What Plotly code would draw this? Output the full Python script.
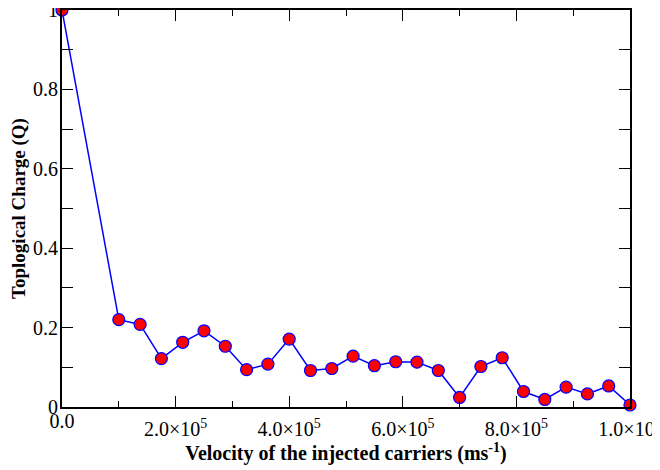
import plotly.graph_objects as go

velocity = [0, 100000, 137500, 175000, 212500, 250000, 287500, 325000, 362500,
            400000, 437500, 475000, 512500, 550000, 587500, 625000, 662500,
            700000, 737500, 775000, 812500, 850000, 887500, 925000, 962500, 1000000]
charge = [1.0, 0.220, 0.208, 0.122, 0.163, 0.192, 0.153, 0.094, 0.108,
          0.171, 0.092, 0.097, 0.128, 0.104, 0.114, 0.113, 0.092,
          0.024, 0.102, 0.124, 0.039, 0.019, 0.050, 0.033, 0.053, 0.005]

x_tickvals = [200000, 400000, 600000, 800000, 1000000]
x_ticktext = ["2.0×10<sup>5</sup>", "4.0×10<sup>5</sup>", "6.0×10<sup>5</sup>",
              "8.0×10<sup>5</sup>", "1.0×10<sup>6</sup>"]
x_zero_val = [0]
x_zero_text = ["0.0"]
y_tickvals = [0, 0.2, 0.4, 0.6, 0.8, 1.0]
y_ticktext = ["0", "0.2", "0.4", "0.6", "0.8", "1"]

FONT = "Liberation Serif"

fig = go.Figure()
fig.add_trace(go.Scatter(
    x=velocity, y=charge, mode="lines+markers",
    line=dict(color="#0000ff", width=1.5),
    marker=dict(size=12, color="#ff0000", line=dict(color="#0000ff", width=1.2)),
    cliponaxis=False, showlegend=False,
))
# invisible companion trace so the secondary x axis (for the "0.0" label) is drawn
fig.add_trace(go.Scatter(
    x=velocity, y=charge, xaxis="x2", mode="markers",
    marker=dict(opacity=0), hoverinfo="skip", showlegend=False,
))

axis_common = dict(
    showgrid=False, zeroline=False, showline=True, linecolor="black", linewidth=2,
    mirror="allticks", ticks="inside", ticklen=11, tickwidth=1, tickcolor="black",
    tickfont=dict(family=FONT, size=20, color="black"),
    automargin=False, ticklabeloverflow="allow",
)

fig.update_layout(xaxis=dict(
    range=[0, 1000000], tickmode="array", tickvals=x_tickvals, ticktext=x_ticktext,
    minor=dict(dtick=100000, tick0=0, ticks="inside", ticklen=6, tickcolor="black", tickwidth=1),
    title=dict(text="<b>Velocity of the injected carriers (ms<sup>-1</sup>)</b>",
               font=dict(family=FONT, size=20, color="black"), standoff=7),
    ticklabelstandoff=3,
    **axis_common,
))
fig.update_layout(xaxis2=dict(
    range=[0, 1000000], overlaying="x", side="bottom", anchor="y",
    tickmode="array", tickvals=x_zero_val, ticktext=x_zero_text,
    showline=False, showgrid=False, zeroline=False, ticks="",
    tickfont=dict(family=FONT, size=20, color="black"),
    automargin=False, ticklabelstandoff=0,
))
fig.update_yaxes(
    range=[0, 1], tickmode="array", tickvals=y_tickvals, ticktext=y_ticktext,
    minor=dict(dtick=0.1, tick0=0, ticks="inside", ticklen=6, tickcolor="black", tickwidth=1),
    title=dict(text="<b>Toplogical Charge (Q)</b>",
               font=dict(family=FONT, size=19, color="black"), standoff=8),
    ticklabelstandoff=-2,
    **axis_common,
)

# The page body adds an 8px offset, so the figure is sized to fill the rest.
fig.update_layout(
    width=652, height=462,
    margin=dict(l=54, r=30, t=2, b=63),
    plot_bgcolor="white", paper_bgcolor="white",
    font=dict(family=FONT, color="black"),
)

fig.write_html("out.html")
